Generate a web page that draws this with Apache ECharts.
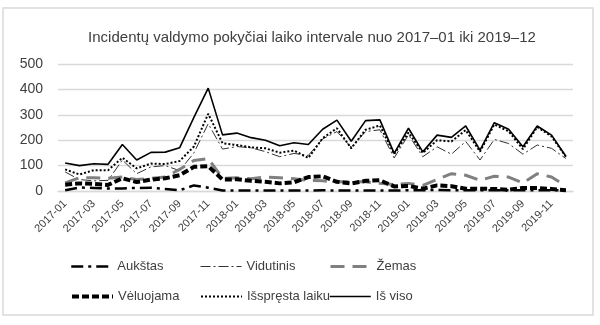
<!DOCTYPE html>
<html>
<head>
<meta charset="utf-8">
<script src="https://cdn.jsdelivr.net/npm/echarts@6/dist/echarts.min.js"></script>
<style>html,body{margin:0;padding:0;background:#fff}#c{width:600px;height:325px}</style>
</head>
<body>
<div id="c"></div>
<script>
const categories = ['2017-01','2017-02','2017-03','2017-04','2017-05','2017-06','2017-07','2017-08','2017-09','2017-10','2017-11','2017-12',
'2018-01','2018-02','2018-03','2018-04','2018-05','2018-06','2018-07','2018-08','2018-09','2018-10','2018-11','2018-12',
'2019-01','2019-02','2019-03','2019-04','2019-05','2019-06','2019-07','2019-08','2019-09','2019-10','2019-11','2019-12'];
const aukstas   = [3,14,12,10,10,12,13,8,3,22,13,2, 2,2,2,2,2,2,3,2,2,2,2,2, 3,3,4,3,3,3,3,3,3,3,3,2];
const vidutinis = [75,45,40,42,122,68,95,100,80,150,265,165, 175,170,155,135,148,140,205,234,172,234,241,130, 221,135,174,145,195,122,203,187,145,181,168,128];
const zemas     = [32,52,52,50,55,45,50,55,85,120,128,50, 52,48,55,52,48,42,40,36,36,36,30,25, 30,22,45,68,62,42,58,55,32,68,55,20];
const veluojama = [25,30,28,24,50,35,45,50,62,95,98,45, 46,40,36,30,34,55,58,36,30,40,42,18, 20,9,22,19,9,9,8,5,12,12,8,3];
const isspresta = [85,65,82,82,131,89,108,106,118,175,304,188, 181,172,168,151,159,130,208,247,168,241,258,145, 230,150,200,195,240,155,262,235,165,252,215,135];
const isViso    = [110,100,107,105,183,122,152,153,170,290,405,221, 228,210,200,178,190,183,243,279,196,277,280,148, 247,154,220,211,256,161,269,243,174,256,220,137];
const yTicks = [0,100,200,300,400,500];

const chart = echarts.init(document.getElementById('c'), null, {renderer:'canvas'});
const font = 'Liberation Sans';
function leg(name, left, top, lw){
  return {data:[name], left:left, top:top, itemWidth:41, itemHeight:14, padding:0,
    itemStyle:{opacity:0}, lineStyle:{width:lw},
    textStyle:{fontFamily:font, fontSize:13, color:'#404040'}};
}
function ser(name, data, color, width, type){
  return {name:name, type:'line', data:data, symbol:'none', smooth:false,
    lineStyle:{color:color, width:width, type:type}, itemStyle:{color:color}};
}
chart.setOption({
  animation:false,
  backgroundColor:'#fff',
  title:{text:'Incidentų valdymo pokyčiai laiko intervale nuo 2017–01 iki 2019–12',
    left:307, textAlign:'center', top:25,
    textStyle:{fontFamily:font, fontSize:15, fontWeight:'normal', color:'#404040'}},
  graphic:[{type:'rect', shape:{x:3, y:8, width:590, height:307}, silent:true,
    style:{fill:'none', stroke:'#d9d9d9', lineWidth:1.5}}],
  grid:{left:58, right:27, top:64, bottom:134},
  xAxis:{type:'category', data:categories, boundaryGap:true,
    axisLine:{lineStyle:{color:'#d9d9d9', width:1.3}}, axisTick:{show:false},
    axisLabel:{interval:1, rotate:45, fontFamily:font, fontSize:11, color:'#404040', margin:11}},
  yAxis:{type:'value', min:yTicks[0], max:yTicks[yTicks.length-1], interval:100,
    axisLine:{show:false}, axisTick:{show:false},
    splitLine:{lineStyle:{color:'#d9d9d9', width:1.3}},
    axisLabel:{fontFamily:font, fontSize:14, color:'#404040', margin:15}},
  legend:[leg('Aukštas',70,260,2.5), leg('Vidutinis',200,260,1), leg('Žemas',329,260,3),
          leg('Vėluojama',70,290,4), leg('Išspręsta laiku',200,290,2), leg('Iš viso',329,290,1.6)],
  series:[
    ser('Aukštas', aukstas, '#000', 2.5, [12,5,3,5]),
    ser('Vidutinis', vidutinis, '#333', 1, [10,3,2,3]),
    ser('Žemas', zemas, '#808080', 3, [14,8]),
    ser('Vėluojama', veluojama, '#000', 4, [7,3]),
    ser('Išspręsta laiku', isspresta, '#000', 2, [2,2]),
    ser('Iš viso', isViso, '#000', 1.6, 'solid')
  ]
});
</script>
</body>
</html>
